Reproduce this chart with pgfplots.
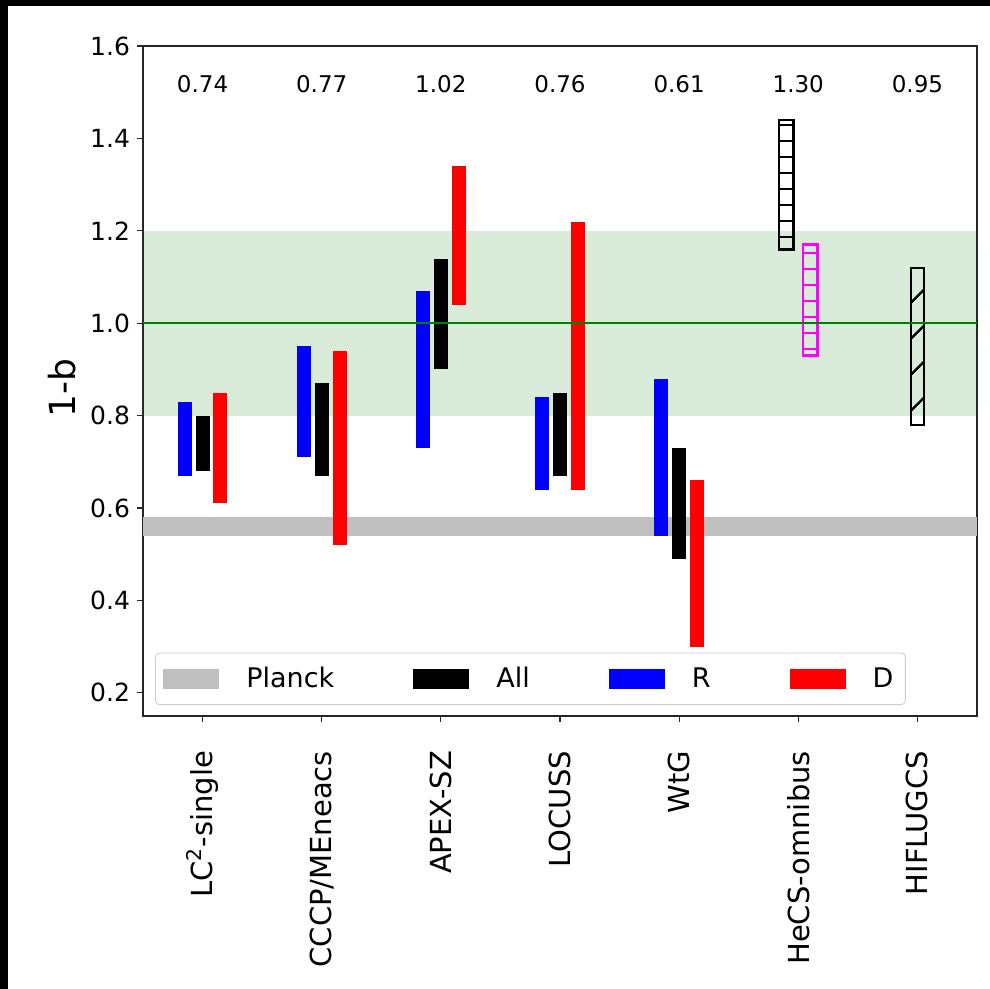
\documentclass[border=0pt]{standalone}
\usepackage{fontspec}
\setmainfont{DejaVu Sans}
\usepackage{pgfplots}
\usepackage{pgfplotstable}
\pgfplotsset{compat=1.18}
\usetikzlibrary{patterns.meta}
\definecolor{mplgreen}{RGB}{0,128,0}
\definecolor{planckgray}{RGB}{191,191,191}
\definecolor{mplmagenta}{RGB}{255,0,255}
\pgfplotsset{patch legend/.style={legend image code/.code={\fill[##1, draw=none, sharp corners] (0pt,-5pt) rectangle (28pt,5pt);}}}

% lower and upper ends of each interval, per subsample
\pgfplotstableread{
x lo hi
0 0.67 0.83
1 0.71 0.95
2 0.73 1.07
3 0.64 0.84
4 0.54 0.88
}\relaxed
\pgfplotstableread{
x lo hi
0 0.68 0.80
1 0.67 0.87
2 0.90 1.14
3 0.67 0.85
4 0.49 0.73
}\allsample
\pgfplotstableread{
x lo hi
0 0.61 0.85
1 0.52 0.94
2 1.04 1.34
3 0.64 1.22
4 0.30 0.66
}\disturbed
\pgfplotstableread{
x y lab
0 1.5 0.74
1 1.5 0.77
2 1.5 1.02
3 1.5 0.76
4 1.5 0.61
5 1.5 1.30
6 1.5 0.95
}\means

\begin{document}
\begin{tikzpicture}
\path[use as bounding box] (-71.5pt,-136.5pt) rectangle (423.5pt,358pt);
\fill[white] (-71.5pt,-136.5pt) rectangle (423.5pt,358pt);
\fill[black] (-71.5pt,-136.5pt) rectangle (-67.5pt,358pt);
\fill[black] (-71.5pt,355pt) rectangle (423.5pt,358pt);
\begin{axis}[
  at={(0pt,0pt)}, anchor=south west,
  scale only axis, width=417pt, height=335pt,
  xmin=-0.5, xmax=6.5, ymin=0.15, ymax=1.6,
  axis line style={black!85, line width=0.6pt},
  tick style={black!85, line width=0.6pt},
  tick align=outside, major tick length=3pt,
  xtick pos=left, ytick pos=left,
  xtick={0,1,2,3,4,5,6},
  xticklabels={{LC\textsuperscript{2}-single},{CCCP/MEneacs},{APEX-SZ},{LOCUSS},{WtG},{HeCS-omnibus},{HIFLUGCS}},
  xticklabel style={rotate=90, anchor=east, font=\fontsize{14.5}{16}\selectfont},
  xticklabel shift=11pt,
  ytick={0.2,0.4,0.6,0.8,1.0,1.2,1.4,1.6},
  yticklabel style={font=\fontsize{12.5}{14}\selectfont,
    /pgf/number format/.cd, fixed, fixed zerofill, precision=1, assume math mode=true},
  ylabel={1-b},
  ylabel style={at={(axis description cs:-0.097,0.49)}, anchor=center, font=\fontsize{18}{22}\selectfont},
  legend columns=4,
  legend cell align=left,
  legend style={at={(0.0144,0.0164)}, anchor=south west, draw=black!20, rounded corners=2pt,
    fill=white, font=\fontsize{13.5}{15}\selectfont, inner xsep=4pt, inner ysep=5pt,
    /tikz/every odd column/.append style={column sep=11.5pt},
    /tikz/every even column/.append style={column sep=37.5pt}},
]
% reference bands
\addplot[forget plot, draw=none, fill=mplgreen, fill opacity=0.15]
  coordinates {(-0.5,0.8) (6.5,0.8) (6.5,1.2) (-0.5,1.2)} --cycle;
\addplot[forget plot, draw=none, fill=planckgray]
  coordinates {(-0.5,0.54) (6.5,0.54) (6.5,0.58) (-0.5,0.58)} --cycle;

% intervals drawn as thick vertical strokes from lo to hi
\addplot[forget plot, draw=none, mark=none,
  error bars/.cd, y dir=plus, y explicit, error mark=none,
  error bar style={line width=7pt, draw=blue}]
  table[x expr=\thisrow{x}-0.15, y=lo, y error plus expr=\thisrow{hi}-\thisrow{lo}] {\relaxed};
\addplot[forget plot, draw=none, mark=none,
  error bars/.cd, y dir=plus, y explicit, error mark=none,
  error bar style={line width=7pt, draw=black}]
  table[x=x, y=lo, y error plus expr=\thisrow{hi}-\thisrow{lo}] {\allsample};
\addplot[forget plot, draw=none, mark=none,
  error bars/.cd, y dir=plus, y explicit, error mark=none,
  error bar style={line width=7pt, draw=red}]
  table[x expr=\thisrow{x}+0.15, y=lo, y error plus expr=\thisrow{hi}-\thisrow{lo}] {\disturbed};

% hatched intervals
\addplot[forget plot, draw=black, line width=1.2pt,
  pattern={Lines[angle=0, distance=8pt, line width=1.1pt]}, pattern color=black]
  coordinates {(4.84,1.16) (4.96,1.16) (4.96,1.44) (4.84,1.44)} --cycle;
\addplot[forget plot, draw=mplmagenta, line width=1.2pt,
  pattern={Lines[angle=0, distance=8pt, line width=1.1pt]}, pattern color=mplmagenta]
  coordinates {(5.04,0.93) (5.16,0.93) (5.16,1.17) (5.04,1.17)} --cycle;
\addplot[forget plot, draw=black, line width=1.2pt,
  pattern={Lines[angle=45, distance=13pt, line width=1.3pt]}, pattern color=black]
  coordinates {(5.945,0.78) (6.055,0.78) (6.055,1.12) (5.945,1.12)} --cycle;

% unbiased line
\addplot[forget plot, mplgreen, line width=1pt] coordinates {(-0.5,1.0) (6.5,1.0)};

% mean values above each sample
\addplot[forget plot, only marks, mark=*, mark size=0pt, mark options={draw=none, fill=none},
  nodes near coords, point meta=explicit symbolic,
  every node near coord/.append style={anchor=base, inner sep=0pt, font=\fontsize{11.5}{13}\selectfont}]
  table[x=x, y=y, meta=lab] {\means};

\addlegendimage{patch legend, fill=planckgray}
\addlegendentry{Planck}
\addlegendimage{patch legend, fill=black}
\addlegendentry{All}
\addlegendimage{patch legend, fill=blue}
\addlegendentry{R}
\addlegendimage{patch legend, fill=red}
\addlegendentry{D}
\end{axis}
\end{tikzpicture}
\end{document}
